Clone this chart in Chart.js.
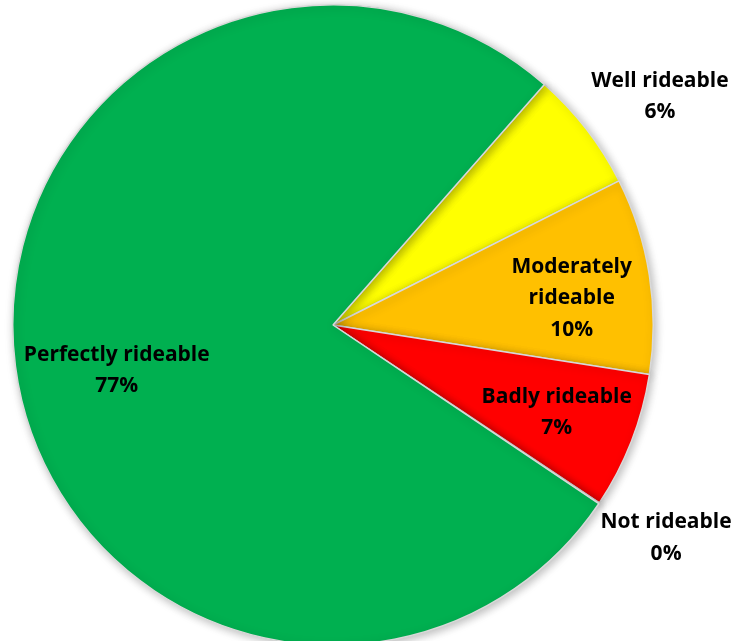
<!DOCTYPE html>
<html>
<head>
<meta charset="utf-8">
<script src="https://cdn.jsdelivr.net/npm/chart.js@4"></script>
<style>
html,body{margin:0;padding:0;background:#fff;overflow:hidden;}
#wrap{position:relative;width:735px;height:660px;}
</style>
</head>
<body>
<div id="wrap"><canvas id="c"></canvas></div>
<script>
const categories = ["Well rideable", "Moderately rideable", "Badly rideable", "Not rideable", "Perfectly rideable"];
const values = [6.1, 9.9, 6.9, 0.05, 77.05];
const percentLabels = ["6%", "10%", "7%", "0%", "77%"];
const labelLines = [["Well rideable"], ["Moderately", "rideable"], ["Badly rideable"], ["Not rideable"], ["Perfectly rideable"]];
const colors = ["#FFFF00", "#FFC000", "#FF0000", "#D9D9D9", "#00B050"];
// label placement: distance as fraction of radius, along slice mid angle (with small angle tweak in degrees)
const labelRadius = [1.245, 0.75, 0.75, 1.235, 0.69];
const labelAngleShift = [2.8, 2.5, 0, -1.2, -4.5];

const shadowPlugin = {
  id: 'shadow',
  beforeDatasetsDraw(chart) {
    const ctx = chart.ctx;
    ctx.save();
    ctx.shadowColor = 'rgba(0,0,0,0.28)';
    ctx.shadowBlur = 10;
    ctx.shadowOffsetX = 2;
    ctx.shadowOffsetY = 2;
  },
  afterDatasetsDraw(chart) {
    chart.ctx.restore();
  }
};

const labelPlugin = {
  id: 'labels',
  afterDraw(chart) {
    const ctx = chart.ctx;
    const meta = chart.getDatasetMeta(0);
    ctx.save();
    ctx.fillStyle = '#000';
    ctx.font = 'bold 21px "Open Sans", "Liberation Sans", sans-serif';
    ctx.textAlign = 'center';
    ctx.textBaseline = 'middle';
    meta.data.forEach((arc, i) => {
      const p = arc.getProps(['x','y','startAngle','endAngle','outerRadius'], true);
      const mid = (p.startAngle + p.endAngle) / 2 + labelAngleShift[i] * Math.PI / 180;
      const r = p.outerRadius * labelRadius[i];
      const cx = p.x + Math.cos(mid) * r;
      const cy = p.y + Math.sin(mid) * r;
      const lines = labelLines[i].concat([percentLabels[i]]);
      const lh = 31.5;
      const top = cy - (lines.length - 1) * lh / 2;
      lines.forEach((t, j) => ctx.fillText(t, cx, top + j * lh));
    });
    ctx.restore();
  }
};

new Chart(document.getElementById('c'), {
  type: 'pie',
  data: {
    labels: categories,
    datasets: [{
      data: values,
      backgroundColor: colors,
      borderColor: '#D9D9D9',
      borderWidth: 1.5
    }]
  },
  options: {
    responsive: true,
    maintainAspectRatio: false,
    animation: false,
    rotation: 41.3,
    layout: { padding: { left: 12, right: 81, top: 4, bottom: 14 } },
    plugins: {
      legend: { display: false },
      tooltip: { enabled: false }
    }
  },
  plugins: [shadowPlugin, labelPlugin]
});
</script>
</body>
</html>
